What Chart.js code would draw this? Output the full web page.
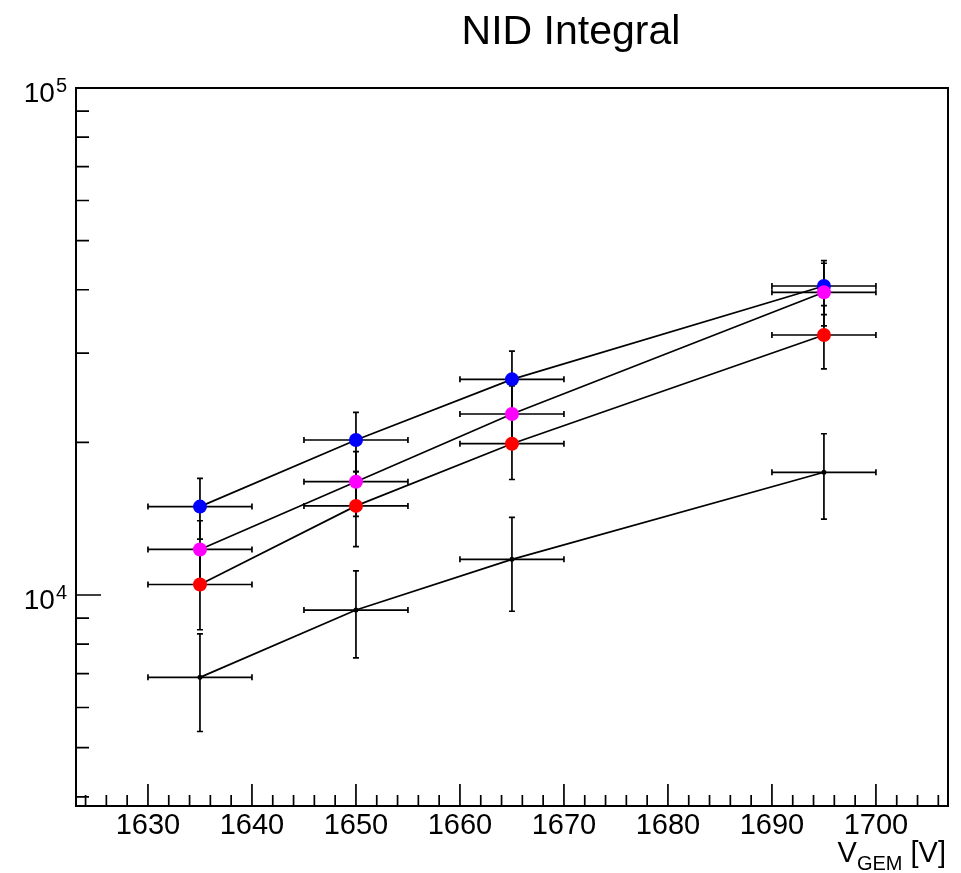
<!DOCTYPE html>
<html>
<head>
<meta charset="utf-8">
<script src="https://cdn.jsdelivr.net/npm/chart.js@4.4.1/dist/chart.umd.min.js"></script>
<style>
html, body { margin: 0; padding: 0; background: #fff; }
#contenedor { width: 961px; height: 873px; }
</style>
</head>
<body>
<div id="contenedor"><canvas id="grafica"></canvas></div>
<script>
// datos
const voltajes = [1635, 1650, 1665, 1695];
const errVoltaje = [5, 5, 5, 5];

const azul = [14940, 20220, 26630, 40690];
const errAzul = [2050, 2710, 3650, 4970];

const magenta = [12300, 16730, 22750, 39540];
const errMagenta = [1710, 2440, 3100, 5580];

const rojo = [10490, 14990, 19880, 32570];
const errRojo = [1950, 2530, 2980, 4650];

const negro = [6880, 9340, 11760, 17460];
const errNegro = [1500, 1820, 2470, 3340];

const ticksX = [1630, 1640, 1650, 1660, 1670, 1680, 1690, 1700];
const ticksY = [10000, 100000];
const exponentesY = ['4', '5'];
const ticksYMenores = [4000, 5000, 6000, 7000, 8000, 9000, 20000, 30000, 40000, 50000, 60000, 70000, 80000, 90000];

const fuente = '"Liberation Sans", Arial, Helvetica, sans-serif';

const puntos = (vals) => vals.map((v, i) => ({ x: voltajes[i], y: v }));

const series = [
    { label: 'magenta', datos: magenta, err: errMagenta, color: '#ff00ff', radio: 7 },
    { label: 'azul', datos: azul, err: errAzul, color: '#0000ff', radio: 7 },
    { label: 'rojo', datos: rojo, err: errRojo, color: '#ff0000', radio: 7 },
    { label: 'negro', datos: negro, err: errNegro, color: '#000000', radio: 2.5 }
];

const barrasError = {
    id: 'barrasError',
    beforeDatasetsDraw(chart) {
        const ctx = chart.ctx;
        const x = chart.scales.x;
        const y = chart.scales.y;
        ctx.save();
        ctx.strokeStyle = '#000';
        ctx.lineWidth = 1.7;
        series.forEach(s => {
            s.datos.forEach((v, i) => {
                const px = x.getPixelForValue(voltajes[i]);
                const py = y.getPixelForValue(v);
                const x1 = x.getPixelForValue(voltajes[i] - errVoltaje[i]);
                const x2 = x.getPixelForValue(voltajes[i] + errVoltaje[i]);
                const y1 = y.getPixelForValue(v + s.err[i]);
                const y2 = y.getPixelForValue(v - s.err[i]);
                ctx.beginPath();
                ctx.moveTo(x1, py); ctx.lineTo(x2, py);
                ctx.moveTo(x1, py - 3); ctx.lineTo(x1, py + 3);
                ctx.moveTo(x2, py - 3); ctx.lineTo(x2, py + 3);
                ctx.moveTo(px, y1); ctx.lineTo(px, y2);
                ctx.moveTo(px - 3, y1); ctx.lineTo(px + 3, y1);
                ctx.moveTo(px - 3, y2); ctx.lineTo(px + 3, y2);
                ctx.stroke();
            });
        });
        ctx.restore();
    }
};

const marco = {
    id: 'marco',
    afterDraw(chart) {
        const ctx = chart.ctx;
        const a = chart.chartArea;
        const x = chart.scales.x;
        const y = chart.scales.y;
        ctx.save();
        ctx.strokeStyle = '#000';
        ctx.lineWidth = 2;
        ctx.strokeRect(a.left, a.top, a.right - a.left, a.bottom - a.top);

        // ticks hacia dentro
        ctx.lineWidth = 1.7;
        ctx.beginPath();
        for (let v = 1624; v <= 1706; v += 2) {
            const px = x.getPixelForValue(v);
            const largo = ticksX.includes(v) ? 22 : 11;
            ctx.moveTo(px, a.bottom); ctx.lineTo(px, a.bottom - largo);
        }
        ticksY.forEach(v => {
            const py = y.getPixelForValue(v);
            ctx.moveTo(a.left, py); ctx.lineTo(a.left + 25, py);
        });
        ticksYMenores.forEach(v => {
            const py = y.getPixelForValue(v);
            ctx.moveTo(a.left, py); ctx.lineTo(a.left + 13, py);
        });
        ctx.stroke();

        // etiquetas eje y: 10^n
        ctx.fillStyle = '#000';
        ctx.textBaseline = 'alphabetic';
        ticksY.forEach((v, i) => {
            const py = y.getPixelForValue(v);
            ctx.font = '20px ' + fuente;
            ctx.textAlign = 'right';
            ctx.fillText(exponentesY[i], 67, py + 4);
            const w = ctx.measureText(exponentesY[i]).width;
            ctx.font = '28px ' + fuente;
            ctx.fillText('10', 67 - w - 1, py + 14);
        });

        // titulo
        ctx.font = '41px ' + fuente;
        ctx.textAlign = 'center';
        ctx.fillText('NID Integral', 571, 44);

        // titulo eje x: V_GEM [V]
        ctx.textAlign = 'left';
        ctx.font = '29px ' + fuente;
        const wV = ctx.measureText('V').width;
        const wC = ctx.measureText(' [V]').width;
        ctx.font = '20px ' + fuente;
        const wG = ctx.measureText('GEM').width;
        let xi = 946 - wV - wG - wC;
        ctx.font = '29px ' + fuente;
        ctx.fillText('V', xi, 862);
        xi += wV;
        ctx.font = '20px ' + fuente;
        ctx.fillText('GEM', xi, 870);
        xi += wG;
        ctx.font = '29px ' + fuente;
        ctx.fillText(' [V]', xi, 862);
        ctx.restore();
    }
};

const instancia = document.getElementById('grafica').getContext('2d');
const myChart = new Chart(instancia, {
    type: 'line',
    data: {
        datasets: series.map(s => ({
            label: s.label,
            data: puntos(s.datos),
            borderColor: '#000',
            borderWidth: 1.7,
            tension: 0,
            fill: false,
            pointRadius: s.radio,
            pointHoverRadius: s.radio,
            pointBackgroundColor: s.color,
            pointBorderColor: s.color,
            pointBorderWidth: 0
        }))
    },
    options: {
        responsive: true,
        maintainAspectRatio: false,
        animation: false,
        layout: { padding: { left: 0, right: 13, top: 88, bottom: 0 } },
        plugins: {
            legend: { display: false },
            tooltip: { enabled: false },
            title: { display: false }
        },
        scales: {
            x: {
                type: 'linear',
                min: 1623.08,
                max: 1706.93,
                grid: { display: false, drawTicks: false },
                border: { display: false },
                ticks: {
                    includeBounds: false,
                    autoSkip: false,
                    maxRotation: 0,
                    padding: 3,
                    color: '#000',
                    font: { family: fuente, size: 29 },
                    callback: (v) => String(v)
                },
                afterBuildTicks: (s) => { s.ticks = ticksX.map(v => ({ value: v })); },
                afterFit: (s) => { s.height = 67; }
            },
            y: {
                type: 'logarithmic',
                min: 3836,
                max: 100000,
                grid: { display: false, drawTicks: false },
                border: { display: false },
                ticks: { display: false },
                afterFit: (s) => { s.width = 76; }
            }
        }
    },
    plugins: [barrasError, marco]
});
</script>
</body>
</html>
